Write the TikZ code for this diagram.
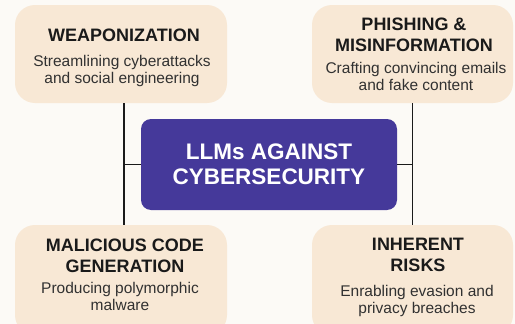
\documentclass[tikz,border=0pt]{standalone}
\usepackage{fontspec}
\setmainfont{Liberation Sans}
\usetikzlibrary{positioning}

\definecolor{paper}{HTML}{FCFAF6}
\definecolor{peach}{HTML}{F8E8D5}
\definecolor{indigo}{HTML}{45399A}
\definecolor{ink}{HTML}{1A1A1A}

\tikzset{
  card/.style={fill=peach, rounded corners=20pt, inner sep=0pt},
  title/.style={anchor=north, inner sep=0pt, align=center, text=ink,
    font=\fontsize{18}{20.5}\selectfont\bfseries},
  note/.style={anchor=north, inner sep=0pt, align=center, text=ink!90,
    font=\fontsize{15.5}{17.5}\selectfont},
  link/.style={draw=ink, line width=1.3pt}
}

\begin{document}
\begin{tikzpicture}[x=1pt, y=-1pt]
\fill[paper] (0,0) rectangle (515,324);
\clip (0,0) rectangle (515,324);

% the four cards
\node[card, minimum width=212pt, minimum height=98pt] (wpn) at (121,54) {};
\node[card, minimum width=201pt, minimum height=98pt] (phish) at (412.5,54) {};
\node[card, minimum width=212pt, minimum height=110pt] (code) at (121,280) {};
\node[card, minimum width=201pt, minimum height=110pt] (risk) at (412.5,280) {};

% spines between the cards and the centre box
\coordinate (lspine) at ([xshift=3pt]wpn.south);
\draw[link] (lspine) -- (lspine |- code.north);
\draw[link] (phish.south) -- (risk.north);

\node[fill=indigo, rounded corners=10pt, minimum width=256pt, minimum height=91pt,
  text=white, align=center, font=\fontsize{22.5}{25}\selectfont\bfseries]
  (llm) at (269,164.5) {LLMs AGAINST\\CYBERSECURITY};
\draw[link] (llm.west) -- (llm.west -| lspine);
\draw[link] (llm.east) -- (llm.east -| phish.south);

% card texts
\node[title] (wpnT) at (124,29) {WEAPONIZATION};
\node[note] (wpnN) at (122,55) {Streamlining cyberattacks\\and social engineering};

\node[title] (phishT) at (414,18) {PHISHING \&\\MISINFORMATION};
\node[note] (phishN) at (416,62) {Crafting convincing emails\\and fake content};

\node[title] (codeT) at (125,239) {MALICIOUS CODE\\GENERATION};
\node[note] (codeN) at (120,282) {Producing polymorphic\\malware};

\node[title] (riskT) at (418,238) {INHERENT\\RISKS};
\node[note] (riskN) at (417,285) {Enrabling evasion and\\privacy breaches};
\end{tikzpicture}
\end{document}
